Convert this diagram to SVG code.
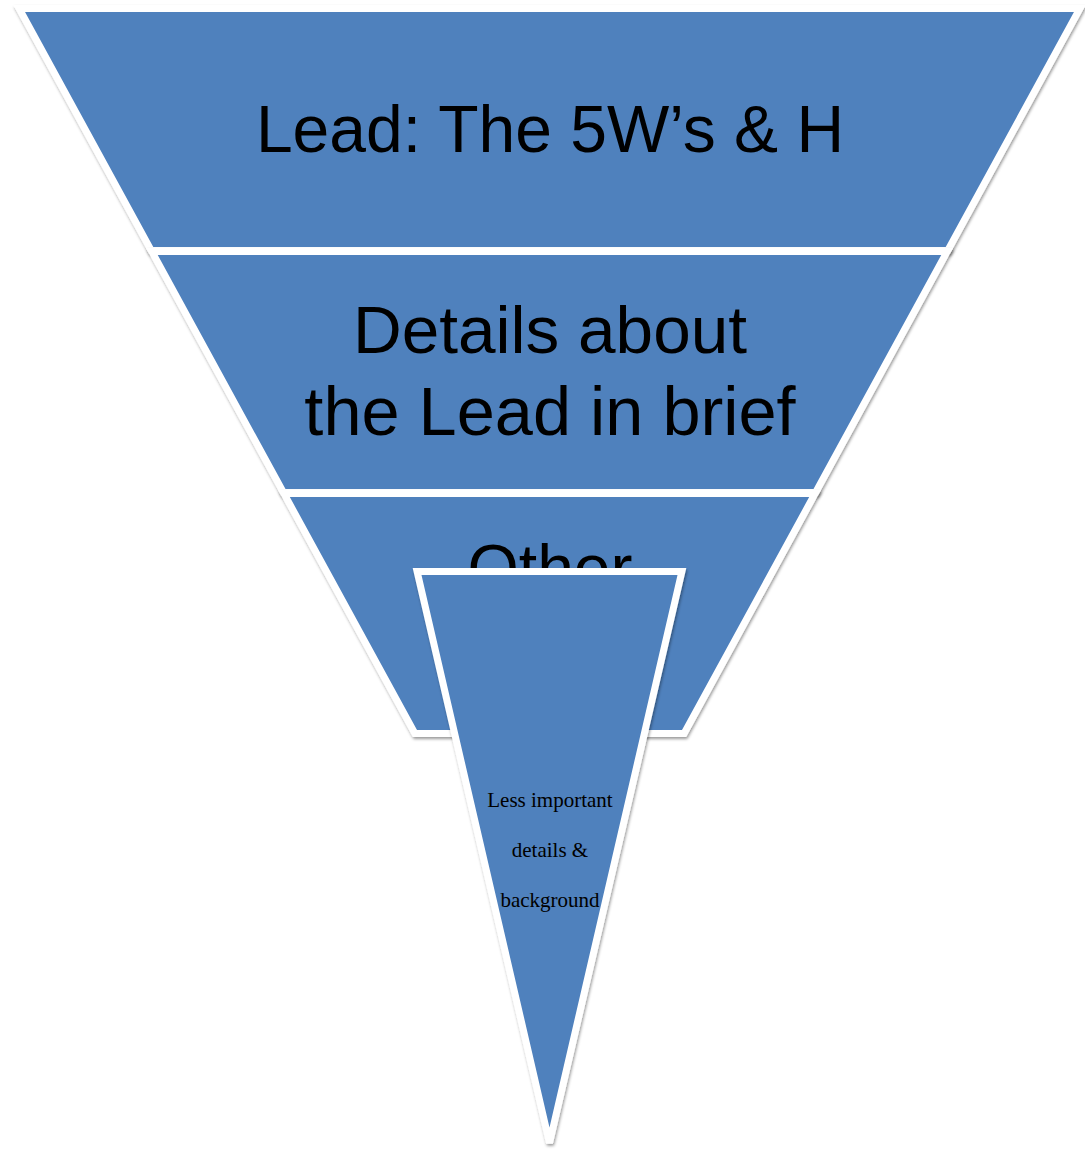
<svg xmlns="http://www.w3.org/2000/svg" width="1085" height="1150" viewBox="0 0 1085 1150">
  <defs>
    <filter id="shadow" x="-10%" y="-10%" width="120%" height="120%">
      <feDropShadow dx="1" dy="2" stdDeviation="1.6" flood-color="#000" flood-opacity="0.4"/>
    </filter>
  </defs>
  <style>
    .band { fill: #4F81BD; stroke: #FFFFFF; stroke-width: 7; stroke-linejoin: miter; }
    .big { font-family: "Liberation Sans", Arial, sans-serif; font-size: 66px; fill: #000; text-anchor: middle; }
    .small { font-family: "Liberation Serif", "Times New Roman", serif; font-size: 21px; fill: #000; text-anchor: middle; }
  </style>
  <rect x="0" y="0" width="1085" height="1150" fill="#FFFFFF"/>

  <g id="node-lead">
    <polygon class="band" filter="url(#shadow)" points="19.1,8.5 1079.9,8.5 947.8,250.5 151.2,250.5"/>
    <text class="big" x="550" y="152">Lead: The 5W’s &amp; H</text>
  </g>

  <g id="node-details">
    <polygon class="band" filter="url(#shadow)" points="151.8,251.5 947.2,251.5 815.6,492.5 283.4,492.5"/>
    <text class="big" x="550" y="353" style="font-size:67.5px">Details about</text>
    <text class="big" x="550" y="435" style="font-size:68.5px">the Lead in brief</text>
  </g>

  <g id="node-other">
    <polygon class="band" filter="url(#shadow)" points="283.9,493.5 815.1,493.5 684.1,733.5 414.9,733.5"/>
    <text class="big" x="550" y="591">Other</text>
  </g>

  <g id="node-less">
    <polygon class="band" filter="url(#shadow)" points="417.1,571.5 681.9,571.5 549.5,1143"/>
    <text class="small" x="550" y="807">Less important</text>
    <text class="small" x="550" y="857">details &amp;</text>
    <text class="small" x="550" y="907">background</text>
  </g>

  <g id="connectors"></g>
</svg>
